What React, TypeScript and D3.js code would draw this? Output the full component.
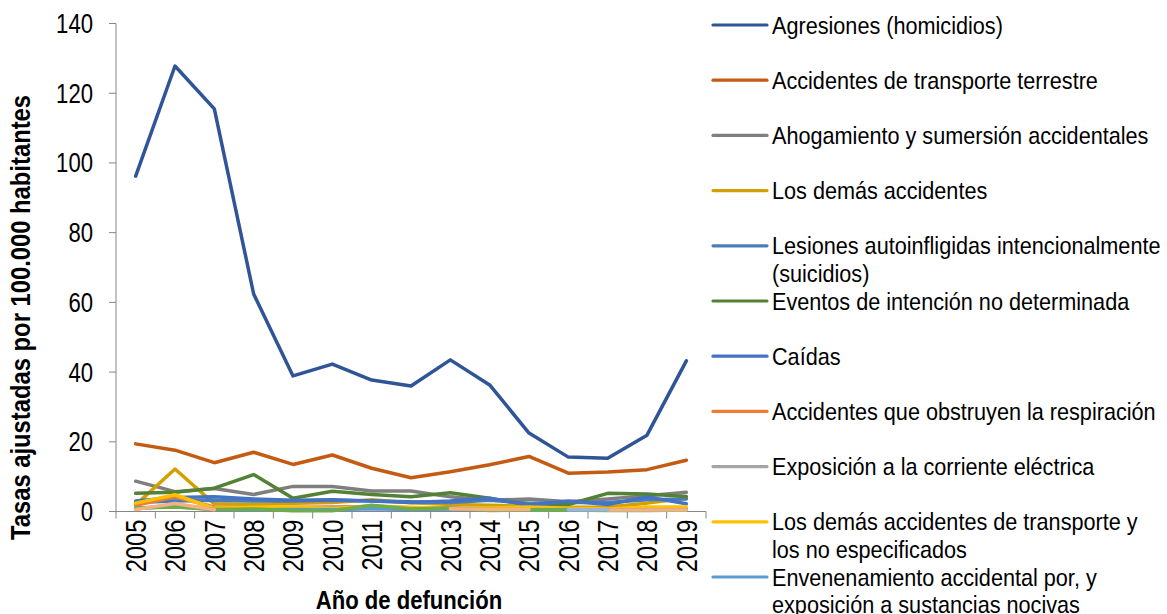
import React from 'react';
import * as d3 from 'd3';

const WIDTH = 1167;
const HEIGHT = 614;
const MARGIN = { top: 23.5, left: 116, right: 461, bottom: 102.5 };
// Arial Narrow look: Liberation Sans squeezed horizontally
const FONT = "'Liberation Sans', Arial, sans-serif";
const NARROW = 0.82;
const NARROW_LEGEND = 0.88;
const NARROW_TITLE = 0.85;

const years = ['2005', '2006', '2007', '2008', '2009', '2010', '2011', '2012', '2013', '2014', '2015', '2016', '2017', '2018', '2019'];
const yTicks = [0, 20, 40, 60, 80, 100, 120, 140];

// series values (tasa ajustada por 100.000 hab.), one array per cause
const agresiones = [96.2, 127.8, 115.5, 62.4, 38.9, 42.3, 37.7, 36.0, 43.5, 36.3, 22.5, 15.6, 15.3, 21.9, 43.2];
const transporte = [19.4, 17.6, 14.0, 17.0, 13.5, 16.2, 12.4, 9.7, 11.4, 13.4, 15.8, 11.0, 11.3, 12.0, 14.7];
const ahogamiento = [8.7, 5.7, 6.6, 4.9, 7.2, 7.2, 5.9, 5.9, 4.2, 3.2, 3.6, 2.8, 3.6, 4.5, 5.5];
const demasAccidentes = [1.9, 12.2, 2.2, 2.0, 2.4, 2.6, 3.4, 2.5, 2.0, 1.8, 1.5, 1.2, 1.3, 2.4, 3.8];
const suicidios = [2.6, 3.0, 3.2, 3.0, 3.0, 3.2, 3.0, 2.8, 2.6, 3.2, 2.4, 2.6, 2.6, 3.4, 3.6];
const noDeterminada = [5.2, 5.5, 6.7, 10.6, 3.8, 5.8, 4.9, 4.2, 5.4, 3.8, 1.9, 2.0, 5.2, 5.0, 4.3];
const caidas = [3.0, 4.0, 4.2, 3.6, 3.2, 3.4, 3.0, 2.6, 3.0, 3.8, 1.8, 3.0, 2.0, 4.2, 2.2];
const respiracion = [1.8, 4.2, 1.3, 1.0, 1.2, 1.3, 1.4, 1.0, 1.0, 0.7, 0.8, 0.7, 0.6, 0.6, 0.7];
const electrica = [0.8, 1.6, 1.0, 0.8, 0.7, 1.2, 0.9, 0.7, 0.7, 0.7, 0.5, 0.6, 0.5, 0.5, 0.6];
const otrosTransporte = [2.4, 4.8, 0.9, 1.2, 1.3, 0.8, 1.6, 1.2, 0.8, 1.0, 1.3, 0.9, 0.7, 1.3, 1.3];
const envenenamiento = [1.0, 1.4, 0.6, 0.5, 0.6, 0.5, 0.8, 0.6, 0.7, 0.6, 0.5, 0.6, 0.4, 0.5, 0.5];
// series drawn but cut from the legend
const extraVerde = [1.0, 1.3, 0.6, 0.7, 0.2, 0.2, 1.8, 0.7, 1.0, 0.3, 0.4, 0.4, 0.3, 0.3, 0.4];
const extraRosa = [0.6, 2.3, 0.5, null, null, null, null, null, 0.8, 0.6, 0.6, null, 0.4, 0.4, 0.4];
const extraLila = [null, null, null, null, null, null, null, null, null, null, null, 0.5, 0.5, null, null];

const series = [
  { name: ['Agresiones (homicidios)'], values: agresiones, color: '#2F5597' },
  { name: ['Accidentes de transporte terrestre'], values: transporte, color: '#C55A11' },
  { name: ['Ahogamiento y sumersión accidentales'], values: ahogamiento, color: '#7F7F7F' },
  { name: ['Los demás accidentes'], values: demasAccidentes, color: '#D4A000' },
  { name: ['Lesiones autoinfligidas intencionalmente', '(suicidios)'], values: suicidios, color: '#4A7EBB' },
  { name: ['Eventos de intención no determinada'], values: noDeterminada, color: '#548235' },
  { name: ['Caídas'], values: caidas, color: '#4472C4' },
  { name: ['Accidentes que obstruyen la respiración'], values: respiracion, color: '#ED7D31' },
  { name: ['Exposición a la corriente eléctrica'], values: electrica, color: '#A5A5A5' },
  { name: ['Los demás accidentes de transporte y', 'los no especificados'], values: otrosTransporte, color: '#FFC000' },
  { name: ['Envenenamiento accidental por, y', 'exposición a sustancias nocivas'], values: envenenamiento, color: '#5B9BD5' },
  { name: null, values: extraVerde, color: '#70AD47' },
  { name: null, values: extraRosa, color: '#F4B183' },
  { name: null, values: extraLila, color: '#9DB3DF' },
];

const App = () => {
  const boundsWidth = WIDTH - MARGIN.left - MARGIN.right;
  const boundsHeight = HEIGHT - MARGIN.top - MARGIN.bottom;

  const xScale = d3.scaleBand().domain(years).range([0, boundsWidth]);
  const yScale = d3.scaleLinear().domain([0, 140]).range([boundsHeight, 0]);

  const lineGenerator = d3
    .line<number | null>()
    .defined((d) => d !== null)
    .x((_, i) => (xScale(years[i]) ?? 0) + xScale.bandwidth() / 2)
    .y((d) => yScale(d as number));

  const axisColor = '#868686';
  const legendX = 713;

  return (
    <svg width={WIDTH} height={HEIGHT} style={{ position: 'absolute', left: 0, top: 0, background: '#fff' }} fontFamily={FONT}>
      <g transform={`translate(${MARGIN.left},${MARGIN.top})`}>
        {/* y axis */}
        <line x1={0} x2={0} y1={0} y2={boundsHeight} stroke={axisColor} />
        {yTicks.map((t) => (
          <g key={t} transform={`translate(0,${yScale(t)})`}>
            <line x1={-7} x2={0} stroke={axisColor} />
            <text transform={`translate(-23,0) scale(${NARROW},1)`} dy="0.35em" textAnchor="end" fontSize={27} fill="#000">
              {t}
            </text>
          </g>
        ))}

        {/* x axis */}
        <line x1={0} x2={boundsWidth} y1={boundsHeight} y2={boundsHeight} stroke={axisColor} />
        {years.map((y) => (
          <line key={'t' + y} x1={xScale(y)} x2={xScale(y)} y1={boundsHeight} y2={boundsHeight + 7} stroke={axisColor} />
        ))}
        <line x1={boundsWidth} x2={boundsWidth} y1={boundsHeight} y2={boundsHeight + 7} stroke={axisColor} />
        {years.map((y) => (
          <text
            key={y}
            transform={`translate(${(xScale(y) ?? 0) + xScale.bandwidth() / 2},${boundsHeight + 8}) rotate(-90) scale(${NARROW},1)`}
            textAnchor="end"
            dy="0.35em"
            fontSize={29}
            fill="#000"
          >
            {y}
          </text>
        ))}

        {/* lines */}
        {series.map((s, i) => (
          <path
            key={i}
            d={lineGenerator(s.values) ?? ''}
            fill="none"
            stroke={s.color}
            strokeWidth={3.5}
            strokeLinejoin="round"
            strokeLinecap="round"
          />
        ))}
      </g>

      {/* axis titles */}
      <text
        transform={`translate(20,${MARGIN.top + boundsHeight / 2 + 50}) rotate(-90) scale(${NARROW_TITLE},1)`}
        textAnchor="middle"
        dy="0.35em"
        fontSize={28}
        fontWeight="bold"
        fill="#000"
      >
        Tasas ajustadas por 100.000 habitantes
      </text>
      <text transform={`translate(409,609) scale(${NARROW_TITLE},1)`} textAnchor="middle" fontSize={26} fontWeight="bold" fill="#000">
        Año de defunción
      </text>

      {/* legend */}
      {series
        .filter((s) => s.name !== null)
        .map((s, i) => {
          const cy = 25 + i * 55.2;
          return (
            <g key={'lg' + i}>
              <line x1={legendX} x2={legendX + 54} y1={cy} y2={cy} stroke={s.color} strokeWidth={3.2} strokeLinecap="round" />
              {(s.name as string[]).map((ln, j) => (
                <text
                  key={j}
                  transform={`translate(772,${cy + j * 27.5}) scale(${NARROW_LEGEND},1)`}
                  dy="0.35em"
                  fontSize={24.6}
                  fill="#000"
                >
                  {ln}
                </text>
              ))}
            </g>
          );
        })}
    </svg>
  );
};

export default App;
